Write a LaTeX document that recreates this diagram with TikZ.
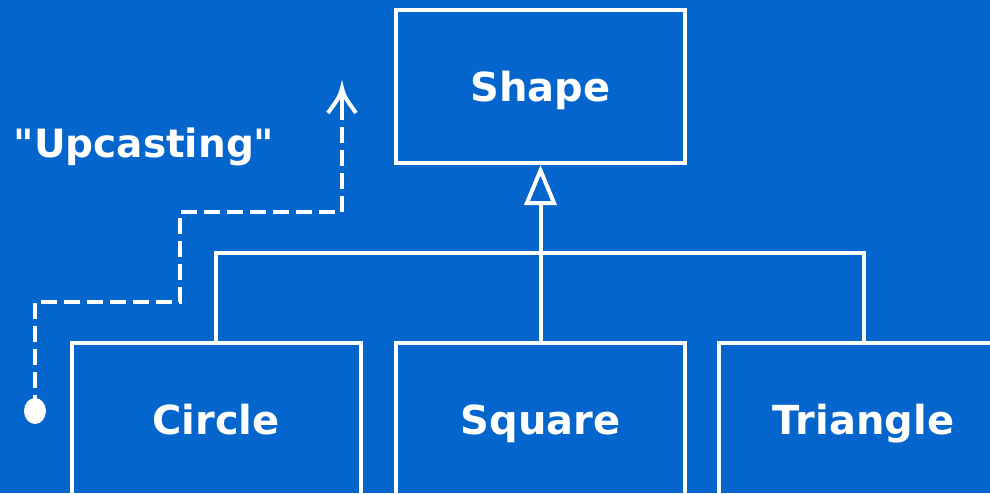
\documentclass[tikz,border=0pt]{standalone}
\usepackage{fontspec}
\setsansfont{DejaVu Sans}
\usetikzlibrary{arrows.meta}
\definecolor{bg}{HTML}{0466CC}
\tikzset{
  cls/.style={draw=white, line width=4pt, minimum width=289pt, minimum height=153pt, inner sep=0pt, text height=33pt, text depth=3pt, text=white, font=\sffamily\bfseries\fontsize{40}{48}\selectfont},
  conn/.style={draw=white, line width=4pt},
  upc/.style={draw=white, line width=4pt, dash pattern=on 16pt off 7pt},
  barb/.style={draw=white, line width=4pt, line join=miter},
  lbl/.style={text=white, font=\sffamily\bfseries\fontsize{39}{46}\selectfont, inner sep=0pt}
}
\begin{document}
\begin{tikzpicture}[x=1pt, y=-1pt]
\fill[bg] (0,0) rectangle (990,493);
\path[use as bounding box] (0,0) rectangle (990,493);
\clip (0,0) rectangle (990,493);
\node[cls] (shape) at (540.5,86.5) {Shape};
\node[cls] (circ) at (216,419.5) {Circle};
\node[cls] (sq) at (540.5,419.5) {Square};
\node[cls] (tri) at (863.5,419.5) {Triangle};
\coordinate (bar) at (540.5,253);
\draw[conn] (circ.north) |- (tri.north |- bar) -- (tri.north);
\draw[conn] (sq.north) -- (bar);
\draw[conn, -{Triangle[open, length=40pt, width=32pt, line width=4pt, fill=bg]}] (bar) -- (shape.south);
\node[lbl, anchor=base] (up) at (144,157) {\textquotedbl Upcasting\textquotedbl};
\fill[white] (35,411) ellipse (11pt and 13pt);
\node[inner sep=0pt, minimum size=0pt] (dot) at (35,411) {};
\coordinate (tip) at (342,88);
\draw[upc] (dot) -- (35,302) -- (180,302) -- (180,212) -- (342,212) -- (342,120);
\draw[barb] (342,120) -- (tip);
\draw[barb] (328,113) .. controls (334,104) and (340,98) .. (tip) .. controls (344,98) and (350,104) .. (356,113);
\end{tikzpicture}
\end{document}
